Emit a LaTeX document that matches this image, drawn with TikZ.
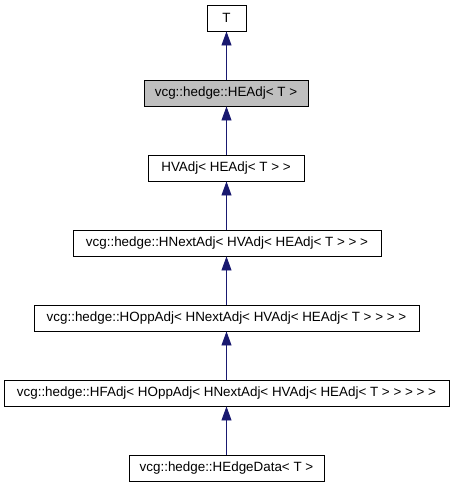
\documentclass[tikz,border=0pt]{standalone}
\usepackage{fontspec}
\setmainfont{Liberation Sans}
\usetikzlibrary{arrows.meta}
\tikzset{
  cls/.style={draw=black, line width=0.9pt, rectangle, inner sep=0pt, minimum height=26pt, font=\fontsize{13.4}{15}\selectfont, anchor=center},
  cur/.style={cls, fill=black!25},
  inh/.style={draw={rgb,255:red,25;green,25;blue,112}, line width=0.9pt, -{Triangle[length=14pt,width=10pt]}, fill={rgb,255:red,25;green,25;blue,112}}
}
\begin{document}
\begin{tikzpicture}[x=1pt,y=-1pt]
\useasboundingbox (0,0) rectangle (453,485);
\node[cls, minimum width=39pt] (t) at (226.5,18) {T};
\node[cur, minimum width=164pt] (headj) at (226,93) {vcg::hedge::HEAdj< T >};
\node[cls, minimum width=156pt] (hvadj) at (226,168) {HVAdj< HEAdj< T > >};
\node[cls, minimum width=308pt] (hnext) at (227,243) {vcg::hedge::HNextAdj< HVAdj< HEAdj< T > > >};
\node[cls, minimum width=385pt] (hopp) at (226.5,318) {vcg::hedge::HOppAdj< HNextAdj< HVAdj< HEAdj< T > > > >};
\node[cls, minimum width=445pt] (hf) at (226.5,393) {vcg::hedge::HFAdj< HOppAdj< HNextAdj< HVAdj< HEAdj< T > > > > >};
\node[cls, minimum width=195pt] (hedata) at (226.5,468) {vcg::hedge::HEdgeData< T >};
\draw[inh] (headj.north -| t.south) -- (t.south);
\draw[inh] (hvadj.north -| t.south) -- (headj.south -| t.south);
\draw[inh] (hnext.north -| t.south) -- (hvadj.south -| t.south);
\draw[inh] (hopp.north -| t.south) -- (hnext.south -| t.south);
\draw[inh] (hf.north -| t.south) -- (hopp.south -| t.south);
\draw[inh] (hedata.north -| t.south) -- (hf.south -| t.south);
\end{tikzpicture}
\end{document}
